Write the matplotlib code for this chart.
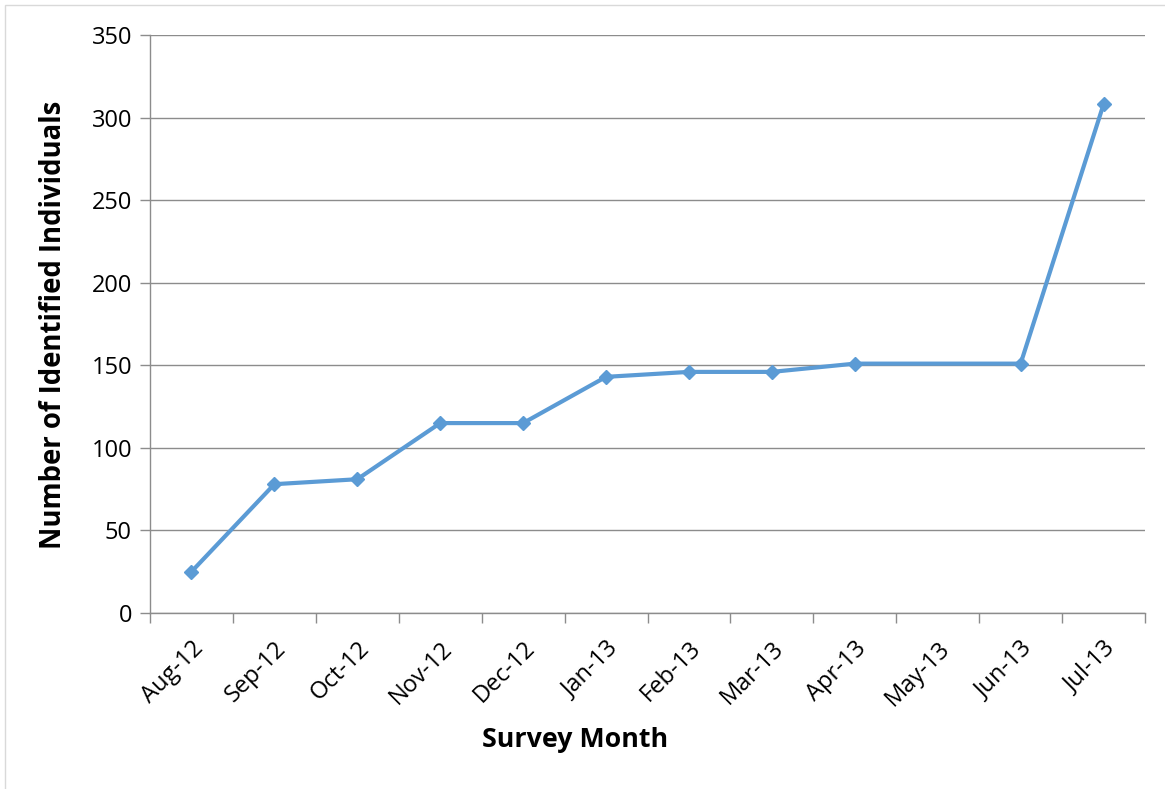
import matplotlib
matplotlib.use("Agg")
import matplotlib.pyplot as plt
from matplotlib.patches import Rectangle
import numpy as np

months = ["Aug-12", "Sep-12", "Oct-12", "Nov-12", "Dec-12", "Jan-13",
          "Feb-13", "Mar-13", "Apr-13", "May-13", "Jun-13", "Jul-13"]
individuals = [25, 78, 81, 115, 115, 143, 146, 146, 151, None, 151, 308]

plt.rcParams['font.family'] = ['Open Sans', 'DejaVu Sans']

W, H = 1165, 789
fig = plt.figure(figsize=(W/100, H/100), dpi=100)
L, R, T, B = 150, 1145, 35, 613
ax = fig.add_axes([L/W, 1 - B/H, (R-L)/W, (B-T)/H])

# figure border
fig.patches.append(Rectangle((5/W, -0.1), 1.2, 1 - 5/H + 0.1, transform=fig.transFigure,
                             fill=False, edgecolor='#d9d9d9', linewidth=1))

xs = [i for i, v in enumerate(individuals) if v is not None]
ys = [v for v in individuals if v is not None]
ax.plot(xs, ys, color='#5B9BD5', linewidth=3, marker='D', markersize=7.5,
        markerfacecolor='#5B9BD5', markeredgecolor='#5B9BD5', zorder=3)

ax.set_xlim(-0.5, len(months) - 0.5)
ax.set_ylim(0, 350)
ax.set_yticks(np.arange(0, 351, 50))
ax.yaxis.grid(True, color='#8c8c8c', linewidth=1)
ax.set_axisbelow(True)

ax.set_xticks(np.arange(len(months)))
ax.set_xticklabels(months, rotation=45, ha='right', rotation_mode='anchor', fontsize=17)
ax.set_xticks(np.arange(-0.5, len(months)), minor=True)
ax.tick_params(axis='x', which='major', length=0, pad=17)
ax.tick_params(axis='x', which='minor', length=7, color='#8c8c8c', width=1)
ax.tick_params(axis='y', length=7, color='#8c8c8c', width=1, labelsize=17, pad=6)

for s in ['top', 'right']:
    ax.spines[s].set_visible(False)
for s in ['left', 'bottom']:
    ax.spines[s].set_color('#8c8c8c')
    ax.spines[s].set_linewidth(1)

fig.text(575/W, 1 - 740/H, "Survey Month", fontsize=19.3, fontweight='bold',
         ha='center', va='center')
fig.text(54/W, 1 - 325/H, "Number of Identified Individuals", fontsize=19.8,
         fontweight='bold', rotation=90, ha='center', va='center')

fig.savefig("out.png", dpi=100)
